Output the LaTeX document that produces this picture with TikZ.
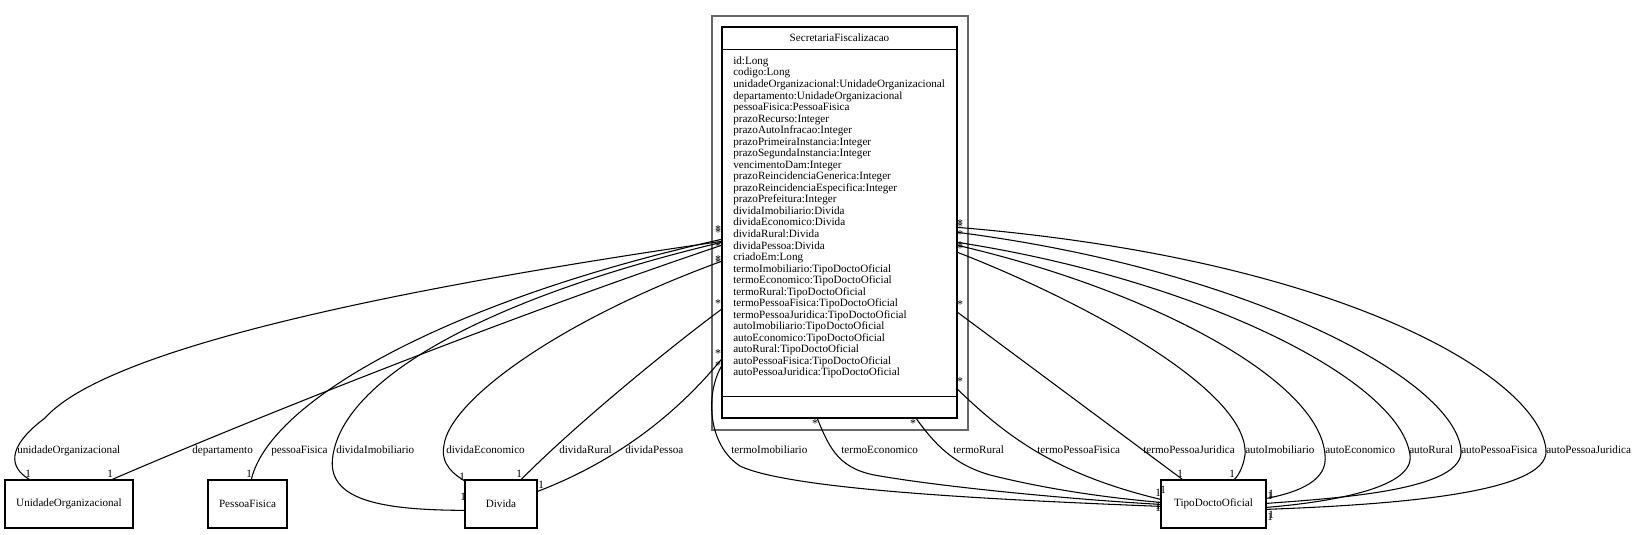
\documentclass[tikz,border=0pt]{standalone}
\usepackage{fontspec}
\setmainfont{Liberation Serif}
\usetikzlibrary{calc}
\begin{document}
\begin{tikzpicture}[x=0.75pt,y=-0.75pt,
  every node/.style={font=\fontsize{8.35}{8.65}\selectfont, inner sep=0pt},
  box/.style={draw=black, line width=0.95pt, rectangle},
  framebox/.style={draw=black!60, line width=1.5pt, rectangle},
  conn/.style={draw=black, line width=0.8pt},
  lbl/.style={anchor=base west},
  mult/.style={anchor=base west},
  star/.style={anchor=center, font=\fontsize{9}{9}\selectfont}]
\useasboundingbox (0,0) rectangle (1636,535);
% frame and class
\node[framebox, minimum width=192pt, minimum height=310.5pt] (frame) at (840,223) {};
\node[box, minimum width=176.25pt, minimum height=293.25pt] (cls) at (839.5,222.5) {};
\draw[line width=0.95pt] ($(cls.north west)+(0,23)$) -- ($(cls.north east)+(0,23)$);
\draw[line width=0.95pt] ($(cls.north west)+(0,370)$) -- ($(cls.north east)+(0,370)$);
\node[anchor=base] (title) at (839.5,42) {SecretariaFiscalizacao};
\foreach \t [count=\i] in {id:Long, codigo:Long, unidadeOrganizacional:UnidadeOrganizacional,
 departamento:UnidadeOrganizacional, pessoaFisica:PessoaFisica, prazoRecurso:Integer,
 prazoAutoInfracao:Integer, prazoPrimeiraInstancia:Integer, prazoSegundaInstancia:Integer,
 vencimentoDam:Integer, prazoReincidenciaGenerica:Integer, prazoReincidenciaEspecifica:Integer,
 prazoPrefeitura:Integer, dividaImobiliario:Divida, dividaEconomico:Divida, dividaRural:Divida,
 dividaPessoa:Divida, criadoEm:Long, termoImobiliario:TipoDoctoOficial,
 termoEconomico:TipoDoctoOficial, termoRural:TipoDoctoOficial, termoPessoaFisica:TipoDoctoOficial,
 termoPessoaJuridica:TipoDoctoOficial, autoImobiliario:TipoDoctoOficial,
 autoEconomico:TipoDoctoOficial, autoRural:TipoDoctoOficial, autoPessoaFisica:TipoDoctoOficial,
 autoPessoaJuridica:TipoDoctoOficial}
 \node[anchor=base west] (attr\i) at (733,{64.4+11.54*(\i-1)}) {\t};
% bottom classes
\node[box, minimum width=96pt, minimum height=36pt] (uo) at (69,504) {UnidadeOrganizacional};
\node[box, minimum width=59.25pt, minimum height=36pt] (pf) at (247.5,504) {PessoaFisica};
\node[box, minimum width=54pt, minimum height=36pt] (dv) at (501,504) {Divida};
\node[box, minimum width=78.75pt, minimum height=36pt] (td) at (1213.5,504) {TipoDoctoOficial};
% connectors
\draw[conn] ($(cls.north west)+(0,215)$) .. controls (420,285) and (110,345) .. (45,418) .. controls (5,448) and (10,468) .. ($(uo.north west)+(25,0)$);
\draw[conn] ($(cls.north west)+(0,219)$) .. controls (500,320) and (250,420) .. ($(uo.north west)+(108,0)$);
\draw[conn] ($(cls.north west)+(0,213)$) .. controls (450,300) and (270,400) .. ($(pf.north west)+(44,0)$);
\draw[conn] ($(cls.north west)+(0,216)$) .. controls (480,300) and (345,380) .. (333,455) .. controls (325,500) and (380,510) .. ($(dv.north west)+(0,31)$);
\draw[conn] ($(cls.north west)+(0,235)$) .. controls (560,320) and (450,400) .. (444,445) .. controls (440,465) and (455,475) .. ($(dv.north west)+(1,2)$);
\draw[conn] ($(cls.north west)+(0,283)$) .. controls (660,355) and (570,430) .. ($(dv.north west)+(57,0)$);
\draw[conn] ($(cls.north west)+(0,333)$) .. controls (680,410) and (620,460) .. ($(dv.north east)+(0,12)$);
\draw[conn] ($(cls.north west)+(0,340)$) .. controls (705,395) and (708,445) .. (740,466) .. controls (790,490) and (1000,500) .. ($(td.north west)+(0,27)$);
\draw[conn] ($(cls.south west)+(96,0)$) .. controls (830,450) and (840,470) .. (880,476) .. controls (950,488) and (1080,500) .. ($(td.north west)+(0,25)$);
\draw[conn] ($(cls.south west)+(195,0)$) .. controls (935,445) and (955,465) .. (990,475) .. controls (1050,490) and (1110,498) .. ($(td.north west)+(0,23)$);
\draw[conn] ($(cls.north east)+(0,363)$) .. controls (1010,440) and (1060,475) .. ($(td.north west)+(0,20)$);
\draw[conn] ($(cls.north east)+(0,286)$) -- ($(td.north west)+(22,0)$);
\draw[conn] ($(cls.north east)+(0,226)$) .. controls (1080,300) and (1250,390) .. (1245,455) .. controls (1243,468) and (1238,476) .. ($(td.north west)+(74,0)$);
\draw[conn] ($(cls.north east)+(0,219)$) .. controls (1150,290) and (1320,380) .. (1325,455) .. controls (1328,480) and (1300,492) .. ($(td.north east)+(0,19)$);
\draw[conn] ($(cls.north east)+(0,216)$) .. controls (1200,280) and (1400,380) .. (1410,455) .. controls (1415,490) and (1320,503) .. ($(td.north east)+(0,28)$);
\draw[conn] ($(cls.north east)+(0,206)$) .. controls (1250,270) and (1455,380) .. (1461,450) .. controls (1465,490) and (1340,498) .. ($(td.north east)+(0,24)$);
\draw[conn] ($(cls.north east)+(0,201)$) .. controls (1350,260) and (1540,380) .. (1546,450) .. controls (1550,495) and (1380,505) .. ($(td.north east)+(0,30)$);
% edge labels
\node[lbl] (l1) at (17,453) {unidadeOrganizacional};
\node[lbl] (l2) at (192,453) {departamento};
\node[lbl] (l3) at (271,453) {pessoaFisica};
\node[lbl] (l4) at (336,453) {dividaImobiliario};
\node[lbl] (l5) at (446,453) {dividaEconomico};
\node[lbl] (l6) at (559,453) {dividaRural};
\node[lbl] (l7) at (625,453) {dividaPessoa};
\node[lbl] (l8) at (731,453) {termoImobiliario};
\node[lbl] (l9) at (841,453) {termoEconomico};
\node[lbl] (l10) at (953,453) {termoRural};
\node[lbl] (l11) at (1037,453) {termoPessoaFisica};
\node[lbl] (l12) at (1143,453) {termoPessoaJuridica};
\node[lbl] (l13) at (1245,453) {autoImobiliario};
\node[lbl] (l14) at (1325,453) {autoEconomico};
\node[lbl] (l15) at (1409,453) {autoRural};
\node[lbl] (l16) at (1461,453) {autoPessoaFisica};
\node[lbl] (l17) at (1546,453) {autoPessoaJuridica};
% multiplicities at targets
\node[mult] (m1) at (25,477) {1};
\node[mult] (m2) at (107,477) {1};
\node[mult] (m3) at (246,477) {1};
\node[mult] (m4) at (459,480) {1};
\node[mult] (m5) at (516,477) {1};
\node[mult] (m6) at (538,488) {1};
\node[mult] (m7) at (460,500) {1};
\node[mult] (m8) at (1177,477) {1};
\node[mult] (m9) at (1229,477) {1};
\node[mult] (m10) at (1155,496) {1};
\node[mult] (m11) at (1160,493) {1};
\node[mult] (m12) at (1155,511) {1};
\node[mult] (m13) at (1155,509) {1};
\node[mult] (m14) at (1267,499) {1};
\node[mult] (m15) at (1268,497) {1};
\node[mult] (m16) at (1267,520) {1};
\node[mult] (m17) at (1268,518) {1};
% multiplicities at class
\foreach \y [count=\i] in {229.5,232.5,246.5,259.5,262.5,303.5,353.5,365.5}
  \node[star] (sl\i) at (718,\y) {*};
\foreach \y [count=\i] in {223.5,226.5,234.5,245.5,248.5,304.5,381.5}
  \node[star] (sr\i) at (960,\y) {*};
\node[star] (sb1) at (815,423.5) {*};
\node[star] (sb2) at (913,423.5) {*};
\end{tikzpicture}
\end{document}
